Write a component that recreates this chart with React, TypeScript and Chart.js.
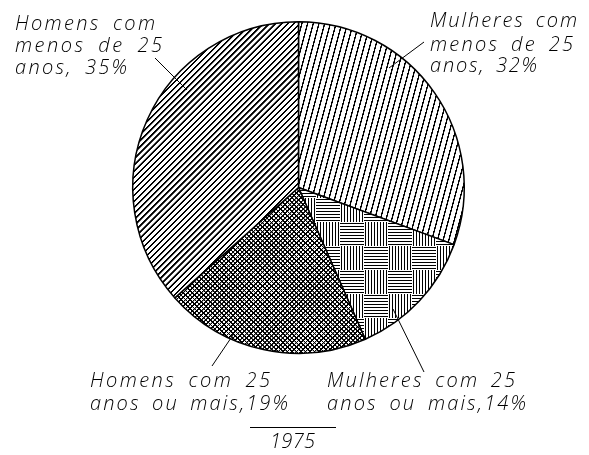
import React, { useEffect, useRef } from 'react';
import { Chart, registerables } from 'chart.js';

Chart.register(...registerables);

// ---- data ----
const CATEGORIES = [
  'Mulheres com menos de 25 anos',
  'Mulheres com 25 anos ou mais',
  'Homens com 25 anos ou mais',
  'Homens com menos de 25 anos',
];
const PERCENT_TEXT = ['32%', '14%', '19%', '35%'];
// slice shares as drawn in the picture (clockwise from 12 o'clock)
const SHARES = [30.6, 12.8, 20.0, 36.6];
const LABEL_LINES = [
  ['Mulheres com', 'menos de 25', 'anos, ' + PERCENT_TEXT[0]],
  ['Mulheres com 25', 'anos ou mais,' + PERCENT_TEXT[1]],
  ['Homens com 25', 'anos ou mais,' + PERCENT_TEXT[2]],
  ['Homens com', 'menos de 25', 'anos, ' + PERCENT_TEXT[3]],
];
const TITLE = '1975';

const W = 589;
const H = 455;

function linePattern(spacing: number, angle: number, lw: number, cross = false) {
  const size = 20;
  const c = document.createElement('canvas');
  c.width = size;
  c.height = size;
  const g = c.getContext('2d')!;
  g.fillStyle = '#fff';
  g.fillRect(0, 0, size, size);
  g.fillStyle = '#000';
  const w = (size * lw) / spacing;
  g.fillRect(0, 0, w, size);
  if (cross) g.fillRect(0, 0, size, w);
  const p = g.createPattern(c, 'repeat')!;
  p.setTransform(new DOMMatrix().rotate(angle).scale(spacing / size));
  return p;
}

function weavePattern() {
  const cell = 24;
  const c = document.createElement('canvas');
  c.width = cell * 2;
  c.height = cell * 2;
  const g = c.getContext('2d')!;
  g.fillStyle = '#fff';
  g.fillRect(0, 0, c.width, c.height);
  g.fillStyle = '#000';
  for (let cy = 0; cy < 2; cy++) {
    for (let cx = 0; cx < 2; cx++) {
      const horiz = (cx + cy) % 2 === 0;
      for (let k = 1; k < cell; k += 3) {
        if (horiz) g.fillRect(cx * cell, cy * cell + k, cell, 1);
        else g.fillRect(cx * cell + k, cy * cell, 1, cell);
      }
    }
  }
  const p = g.createPattern(c, 'repeat')!;
  p.setTransform(new DOMMatrix().translate(316 % 48, 198 % 48));
  return p;
}

const FONT = 'italic 300 20px "Open Sans"';

function spacedText(ctx: CanvasRenderingContext2D, text: string, x: number, y: number, width: number) {
  const chars = Array.from(text);
  let natural = 0;
  let units = 0;
  chars.forEach((ch, i) => {
    natural += ctx.measureText(ch).width;
    if (i < chars.length - 1) units += ch === ' ' ? 3 : 1;
  });
  const extra = units > 0 ? (width - natural) / units : 0;
  let cx = x;
  for (const ch of chars) {
    ctx.fillText(ch, cx, y);
    cx += ctx.measureText(ch).width + extra * (ch === ' ' ? 3 : 1);
  }
}

// annotation layout (positions only)
const LABEL_LAYOUT = [
  { x: 430, baselines: [27, 51, 72], widths: [147, 143, 107] },
  { x: 327, baselines: [387, 410], widths: [188, 199] },
  { x: 90, baselines: [387, 410], widths: [180, 198] },
  { x: 15, baselines: [30, 52, 74], widths: [140, 147, 112] },
];
const LEADERS = [
  [389, 68, 424, 42],
  [393, 309, 424, 372],
  [233, 335, 212, 366],
  [187, 90, 155, 58],
];

const annotationPlugin = {
  id: 'annotations',
  afterDraw(chart: any) {
    const ctx: CanvasRenderingContext2D = chart.ctx;
    ctx.save();
    ctx.strokeStyle = '#000';
    ctx.lineWidth = 1;
    for (const [x1, y1, x2, y2] of LEADERS) {
      ctx.beginPath();
      ctx.moveTo(x1, y1);
      ctx.lineTo(x2, y2);
      ctx.stroke();
    }
    ctx.fillStyle = '#000';
    ctx.font = FONT;
    ctx.textBaseline = 'alphabetic';
    ctx.textAlign = 'left';
    LABEL_LINES.forEach((lines, i) => {
      const lay = LABEL_LAYOUT[i];
      lines.forEach((t, j) => spacedText(ctx, t, lay.x, lay.baselines[j], lay.widths[j]));
    });
    // title with overline
    ctx.beginPath();
    ctx.moveTo(250, 427.5);
    ctx.lineTo(336, 427.5);
    ctx.stroke();
    spacedText(ctx, TITLE, 270, 448, 45);
    ctx.restore();
  },
};

export default function App() {
  const ref = useRef<HTMLCanvasElement>(null);
  useEffect(() => {
    const canvas = ref.current!;
    const bg = [
      linePattern(5.5, 15, 1.4),
      weavePattern(),
      linePattern(3.2, 45, 1.2, true),
      linePattern(4.3, 45, 1.6),
    ];
    const chart = new Chart(canvas, {
      type: 'pie',
      data: {
        labels: CATEGORIES,
        datasets: [
          {
            data: SHARES,
            backgroundColor: bg as any,
            borderColor: '#000',
            borderWidth: 1.5,
          },
        ],
      },
      options: {
        responsive: false,
        animation: false,
        devicePixelRatio: 1,
        layout: { padding: { left: 132, top: 21, right: 124, bottom: 101 } },
        plugins: {
          legend: { display: false },
          tooltip: { enabled: false },
        },
      },
      plugins: [annotationPlugin],
    });
    return () => chart.destroy();
  }, []);
  return (
    <div style={{ position: 'fixed', left: 0, top: 0, width: W, height: H, background: '#fff' }}>
      <canvas ref={ref} width={W} height={H} style={{ width: W, height: H, display: 'block' }} />
    </div>
  );
}
